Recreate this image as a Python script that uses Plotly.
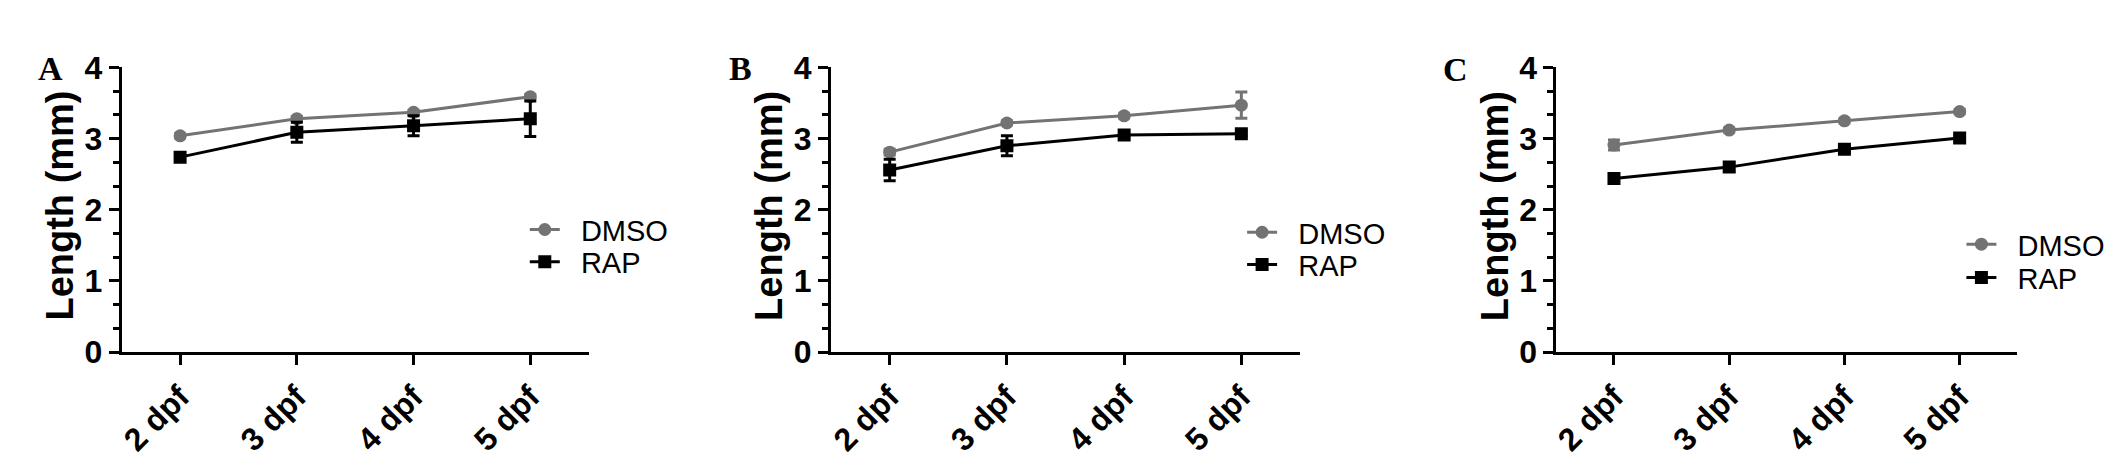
import plotly.graph_objects as go

categories = ["2 dpf", "3 dpf", "4 dpf", "5 dpf"]

# Panel A
a_dmso = [3.04, 3.28, 3.37, 3.59]
a_dmso_err = [0.03, 0.03, 0.03, 0.03]
a_rap = [2.74, 3.09, 3.18, 3.28]
a_rap_err = [0.03, 0.14, 0.14, 0.25]

# Panel B
b_dmso = [2.81, 3.22, 3.32, 3.47]
b_dmso_err = [0.04, 0.03, 0.03, 0.185]
b_rap = [2.56, 2.90, 3.05, 3.07]
b_rap_err = [0.15, 0.14, 0.03, 0.03]

# Panel C
c_dmso = [2.91, 3.12, 3.25, 3.38]
c_dmso_err = [0.07, 0.03, 0.03, 0.03]
c_rap = [2.44, 2.60, 2.85, 3.01]
c_rap_err = [0.03, 0.06, 0.04, 0.03]

panel_letters = ["A", "B", "C"]
series_names = ["DMSO", "RAP"]
y_title = "Length (mm)"

W, H = 2126, 458
SANS = "Arial, 'Liberation Sans', sans-serif"
SERIF = "'Times New Roman', 'Liberation Serif', serif"
GRAY = "#737373"
BLACK = "#000000"
NB = "\u00a0\u00a0"

panels = [
    (a_dmso, a_dmso_err, a_rap, a_rap_err),
    (b_dmso, b_dmso_err, b_rap, b_rap_err),
    (c_dmso, c_dmso_err, c_rap, c_rap_err),
]

# plot-area pixel extents (left, right) for each panel
x_px = [(109, 577), (820, 1290), (1547, 2009)]
y_top, y_bot = 45, 354
legend_x = [513, 1232, 1953]
legend_rows = [(221, 256), (224, 259), (237, 273)]
letter_pos = [(38, 46), (729, 46), (1446, 47)]

fig = go.Figure()
layout = dict(
    width=W, height=H,
    margin=dict(l=0, r=0, t=0, b=0),
    paper_bgcolor="white", plot_bgcolor="white",
    showlegend=True,
    annotations=[],
)

leg_idx = 0
for i, (dm, dme, rp, rpe) in enumerate(panels):
    n = "" if i == 0 else str(i + 1)
    xa, ya = "x" + n, "y" + n
    specs = [
        (series_names[0], dm, dme, GRAY, "circle"),
        (series_names[1], rp, rpe, BLACK, "square"),
    ]
    for j, (nm, vals, errs, col, sym) in enumerate(specs):
        leg_idx += 1
        leg = "legend" if leg_idx == 1 else "legend" + str(leg_idx)
        fig.add_trace(go.Scatter(
            x=categories, y=vals, name=NB + nm, xaxis=xa, yaxis=ya, legend=leg,
            mode="lines+markers",
            line=dict(color=col, width=3),
            marker=dict(symbol=sym, size=13, color=col),
            error_y=dict(type="data", array=errs, color=col, thickness=3, width=6),
        ))
        layout[leg] = dict(
            x=legend_x[i] / W, y=1 - legend_rows[i][j] / H,
            xanchor="left", yanchor="middle",
            bgcolor="rgba(0,0,0,0)", borderwidth=0,
            font=dict(family=SANS, size=29, color="black"),
            itemwidth=30,
        )
    x0, x1 = x_px[i]
    layout["xaxis" + n] = dict(
        domain=[x0 / W, x1 / W], anchor=ya, type="category",
        range=[-0.5, 3.5], showline=True, linecolor="black", linewidth=3,
        ticks="outside", ticklen=10, tickwidth=3, tickcolor="black",
        tickangle=-45, showgrid=False, zeroline=False,
        tickfont=dict(family=SANS, size=32, color="black", weight="bold"),
    )
    layout["yaxis" + n] = dict(
        domain=[1 - y_bot / H, 1 - y_top / H], anchor=xa,
        range=[0, 4], dtick=1, showline=True, linecolor="black", linewidth=3,
        ticks="outside", ticklen=10, tickwidth=3, tickcolor="black",
        minor=dict(dtick=1 / 3, tick0=0, ticks="outside", ticklen=6, tickwidth=3, tickcolor="black"),
        showgrid=False, zeroline=False,
        tickfont=dict(family=SANS, size=32, color="black", weight="bold"),
    )
    layout["annotations"].append(dict(
        text=y_title, textangle=-90, showarrow=False,
        xref=xa + " domain", yref=ya + " domain", x=0, y=0.5,
        xanchor="center", yanchor="middle", xshift=-62, yshift=4,
        font=dict(family=SANS, size=38, color="black", weight="bold"),
    ))
    px_, py_ = letter_pos[i]
    layout["annotations"].append(dict(
        text=panel_letters[i], showarrow=False, xref="paper", yref="paper",
        x=px_ / W, y=1 - py_ / H, xanchor="center", yanchor="middle",
        font=dict(family=SERIF, size=34, color="black", weight="bold"),
    ))

fig.update_layout(**layout)
fig.write_html("out.html")
